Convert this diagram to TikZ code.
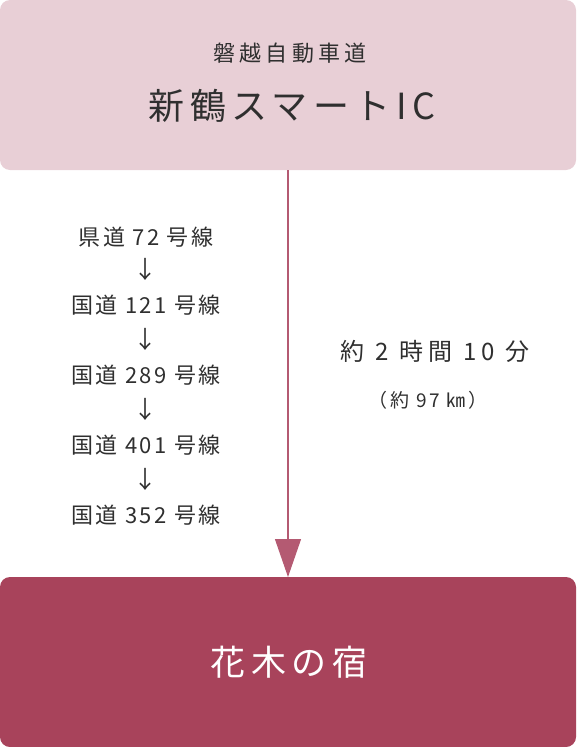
\documentclass[tikz,border=0pt]{standalone}
\usepackage{fontspec}
\usetikzlibrary{arrows.meta}
\newfontfamily\jpfont{Noto Sans CJK JP}
\definecolor{toppink}{HTML}{E8CFD6}
\definecolor{rosedark}{HTML}{A8435B}
\definecolor{routeline}{HTML}{B45A72}
\definecolor{inktext}{HTML}{2F2F2F}
\newcommand{\jpsize}[2]{\jpfont\addfontfeature{LetterSpace=#2}\fontsize{#1}{#1}\selectfont}
\begin{document}
\begin{tikzpicture}[x=1pt,y=1pt,yscale=-1,
  boxlabel/.style={inner sep=0, text=inktext},
  routetext/.style={inner sep=0, text=inktext, font=\jpsize{22}{11}},
  roadarrow/.style={inner sep=0, text=inktext, font=\jpsize{24}{0}}]

\useasboundingbox (0,0) rectangle (576,747);

% Boxes
\fill [toppink, rounded corners=10] (0,0) rectangle (576,170);
\fill [rosedark, rounded corners=10] (0,577) rectangle (576,747);

% Box texts
\node [boxlabel, font=\jpsize{22}{20}] (highway) at (290,53) {磐越自動車道};
\node [boxlabel, font=\jpsize{36}{15}] (startic) at (292,106) {新鶴スマートIC};
\node [inner sep=0, text=white, font=\jpsize{35}{16}] (inn) at (289,662) {花木の宿};

% Connector
\coordinate (lineTop) at (288,170);
\coordinate (lineEnd) at (288,577);
\draw [routeline, line width=1.2, -{Triangle[length=38, width=26]}] (lineTop) -- (lineEnd);

% Route list
\node [routetext] (r1) at (146,237) {県道 72 号線};
\node [roadarrow] (a1) at (145,269) {↓};
\node [routetext] (r2) at (146,305) {国道 121 号線};
\node [roadarrow] (a2) at (145,339) {↓};
\node [routetext] (r3) at (146,375) {国道 289 号線};
\node [roadarrow] (a3) at (145,409) {↓};
\node [routetext] (r4) at (146,445) {国道 401 号線};
\node [roadarrow] (a4) at (145,479) {↓};
\node [routetext] (r5) at (146,515) {国道 352 号線};

% Time and distance
\node [boxlabel, font=\jpsize{24}{22}] (time) at (435,351) {約 2 時間 10 分};
\node [boxlabel, font=\jpsize{19}{14}] (dist) at (428,400) {（約 97 ㎞）};

\end{tikzpicture}
\end{document}
